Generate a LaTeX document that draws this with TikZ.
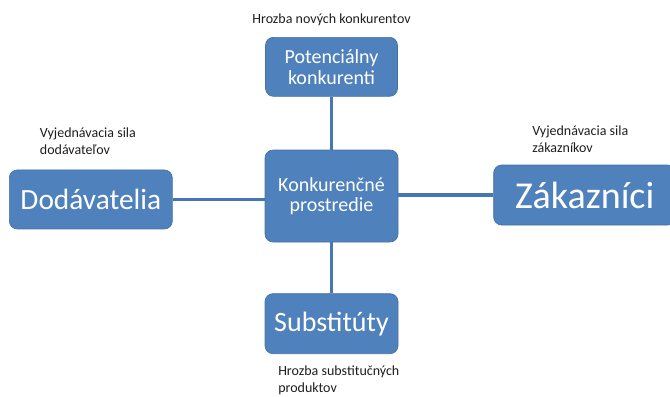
\documentclass[tikz,border=0pt]{standalone}
\usepackage{fontspec}
\setmainfont{Carlito}
\usetikzlibrary{positioning}
\definecolor{BoxBlue}{RGB}{79,129,189}
\definecolor{BoxEdge}{RGB}{70,112,165}
\definecolor{LinkBlue}{RGB}{70,118,180}
\definecolor{NoteGray}{RGB}{30,30,30}

\begin{document}
\begin{tikzpicture}[
x=0.75pt, y=-0.75pt,
box/.style={draw=BoxEdge, fill=BoxBlue, rounded corners=6pt, text=white, align=center, inner sep=0pt, line width=0.5pt},
link/.style={draw=LinkBlue, line width=2.3pt},
note/.style={font=\fontsize{10.5}{12.75}\selectfont, text=NoteGray, align=left, inner sep=0pt}
]
\useasboundingbox (0,0) rectangle (670,396);
\node[box, minimum width=99.75pt, minimum height=69pt, font=\fontsize{15}{15.5}\selectfont] (konk) at (331.5,196) {Konkurenčné\\prostredie};
\node[box, above=39.75pt of konk, minimum width=99pt, minimum height=44.25pt, font=\fontsize{15}{15.75}\selectfont] (pot) {Potenciálny\\konkurenti};
\node[box, below=38.25pt of konk, minimum width=99.75pt, minimum height=45pt, font=\fontsize{21}{24}\selectfont] (subst) {Substitúty};
\node[box, left=69pt of konk, yshift=-2.6pt, minimum width=122.25pt, minimum height=44.25pt, font=\fontsize{22}{26}\selectfont] (dod) {Dodávatelia};
\node[box, right=71.25pt of konk, yshift=0.75pt, minimum width=136.5pt, minimum height=45pt, font=\fontsize{28.5}{32}\selectfont] (zak) {Zákazníci};

\node[note, above=8pt of pot] (potnote) {Hrozba nových konkurentov};
\node[note, above right=11pt and 23pt of dod.north west] (dodnote) {Vyjednávacia sila\\dodávateľov};
\node[note, above right=9pt and 29pt of zak.north west] (zaknote) {Vyjednávacia sila\\zákazníkov};
\node[note, below right=9pt and 10pt of subst.south west] (substnote) {Hrozba substitučných\\produktov};

\draw[link] (pot) -- (konk);
\draw[link] (konk) -- (subst);
\draw[link] (dod.east) -- (dod.east -| konk.west);
\draw[link] (zak.west) -- (zak.west -| konk.east);
\end{tikzpicture}
\end{document}
